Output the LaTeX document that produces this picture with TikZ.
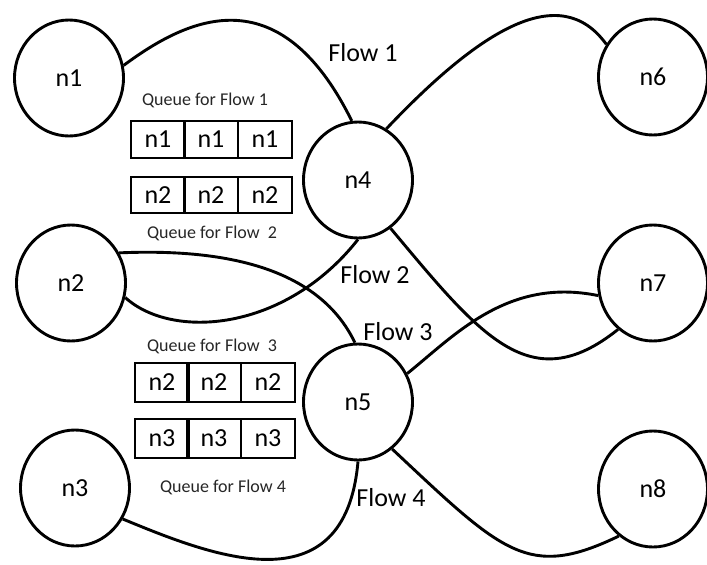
\documentclass[tikz,border=0pt]{standalone}
\usepackage{fontspec}
\setmainfont{Carlito}
\usetikzlibrary{shapes.geometric}
\begin{document}
\begin{tikzpicture}[x=1pt,y=-1pt,
  host/.style={ellipse,draw,line width=2.9pt,minimum width=109pt,minimum height=116pt,inner sep=0pt,font=\fontsize{26}{31}\selectfont},
  link/.style={line width=2.9pt},
  cell/.style={draw,line width=2.9pt,minimum width=54pt,minimum height=37pt,inner sep=0pt,font=\fontsize{26}{31}\selectfont},
  flowlbl/.style={font=\fontsize{26}{31}\selectfont,inner sep=0pt},
  qlbl/.style={font=\fontsize{18}{22}\selectfont,inner sep=0pt,text=black!85}]
\useasboundingbox (0,0) rectangle (707,565);
% hosts
\node[host] (n1) at (69,78) {n1};
\node[host] (n2) at (71,283) {n2};
\node[host] (n3) at (75,488) {n3};
\node[host] (n4) at (358,180) {n4};
\node[host] (n5) at (358,402) {n5};
\node[host] (n6) at (653,77) {n6};
\node[host] (n7) at (653,283) {n7};
\node[host] (n8) at (653,489) {n8};
% queues
\node[cell] (qa1) at (158,139.5) {n1};
\node[cell] (qa2) at (211,139.5) {n1};
\node[cell] (qa3) at (265,139.5) {n1};
\node[cell,minimum height=36pt] (qb1) at (158,195) {n2};
\node[cell,minimum height=36pt] (qb2) at (211,195) {n2};
\node[cell,minimum height=36pt] (qb3) at (265,195) {n2};
\node[cell,minimum height=39pt] (qc1) at (162,382.5) {n2};
\node[cell,minimum height=39pt] (qc2) at (214,382.5) {n2};
\node[cell,minimum height=39pt] (qc3) at (268,382.5) {n2};
\node[cell,minimum height=39pt] (qd1) at (162,438.5) {n3};
\node[cell,minimum height=39pt] (qd2) at (214,438.5) {n3};
\node[cell,minimum height=39pt] (qd3) at (268,438.5) {n3};
% labels
\node[qlbl] (l1) at (205,100) {Queue for Flow 1};
\node[qlbl] (l2) at (212,233) {Queue for Flow\ \ 2};
\node[qlbl] (l3) at (212,346) {Queue for Flow\ \ 3};
\node[qlbl] (l4) at (223,487) {Queue for Flow 4};
\node[flowlbl] (f1) at (363,53) {Flow 1};
\node[flowlbl] (f2) at (375,275) {Flow 2};
\node[flowlbl] (f3) at (398,332) {Flow 3};
\node[flowlbl] (f4) at (391,498) {Flow 4};
% flow 1
\draw[link] (n1.13) .. controls (185,20) and (278,-28) .. (n4.96);
\draw[link] (n4.61) .. controls (480,30) and (560,-20) .. (n6.145);
% flow 2
\draw[link] (n2.-15) .. controls (172,340) and (285,332) .. (n4.-90);
\draw[link] (n4.-56) .. controls (480,335) and (530,400) .. (n7.233);
% flow 3
\draw[link] (n2.32) .. controls (230,248) and (320,270) .. (n5.93);
\draw[link] (n5.30) .. controls (455,335) and (508,277) .. (n7.193);
% flow 4
\draw[link] (n3.-33) .. controls (210,555) and (345,610) .. (n5.-90);
\draw[link] (n5.-54) .. controls (503,553) and (528,580) .. (n8.234);
\end{tikzpicture}
\end{document}
